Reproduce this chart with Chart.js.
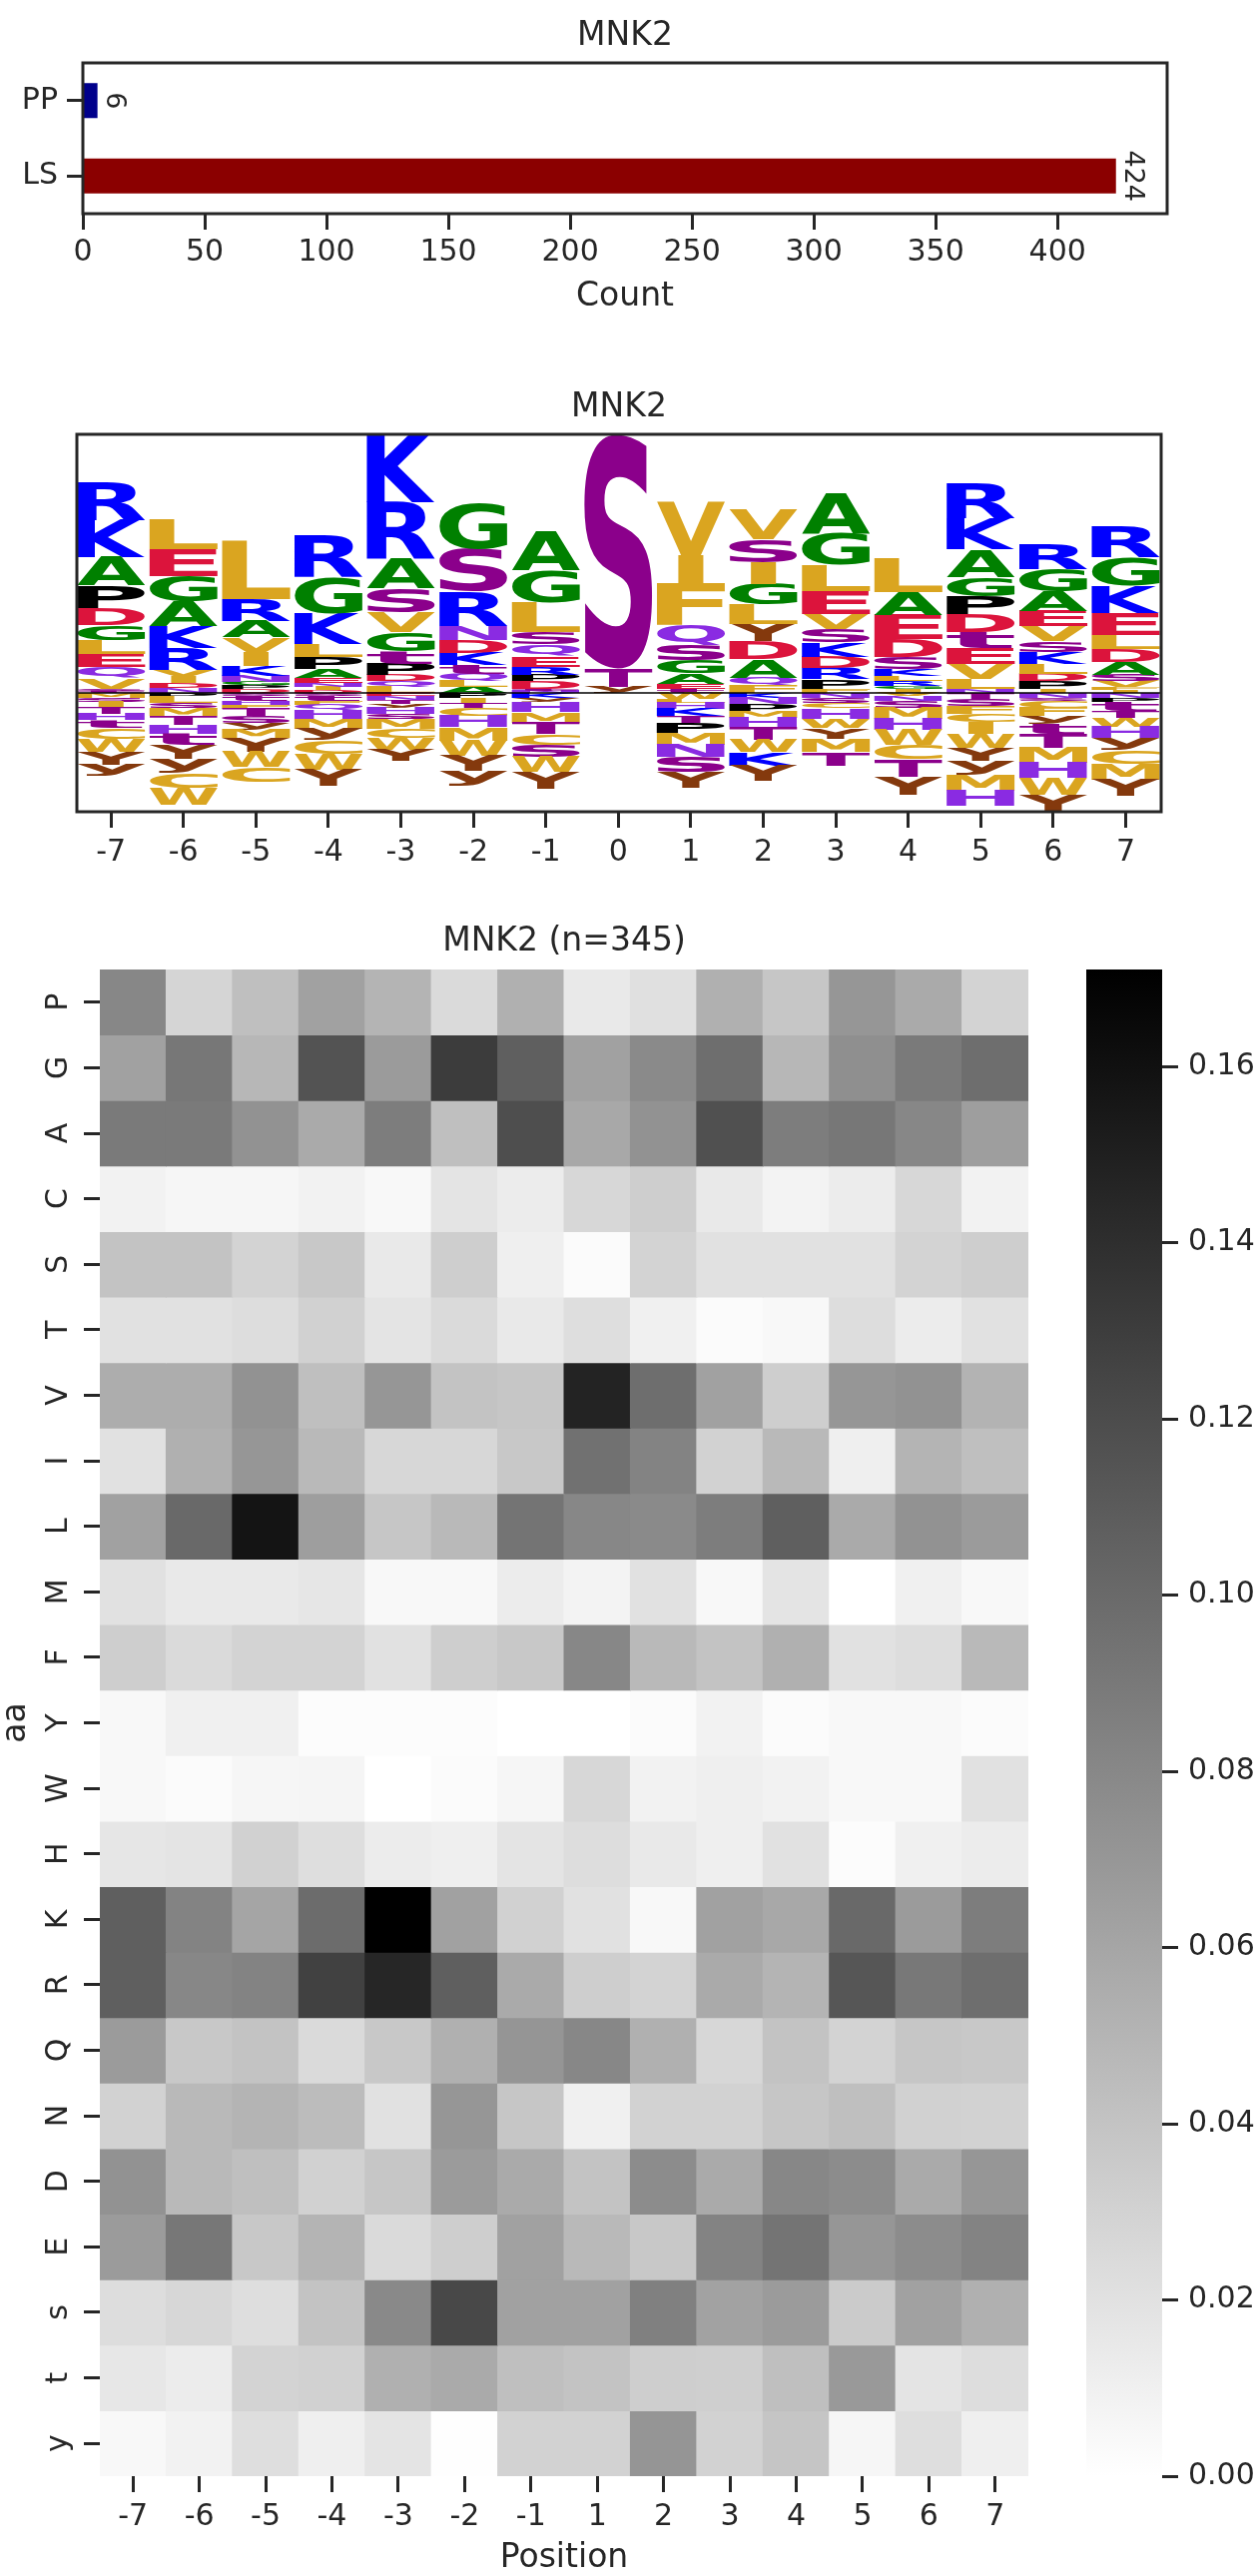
<!DOCTYPE html>
<html lang="en">
<head>
<meta charset="UTF-8">
<title>MNK2</title>
<script src="https://cdn.jsdelivr.net/npm/chart.js"></script>
<style>
    body { margin: 0; padding: 0; background: #fff; }
    canvas { position: absolute; }
</style>
</head>
<body>
<canvas id="counts" width="1257" height="320" style="left:0px;top:0px"></canvas>
<canvas id="logo" width="1257" height="500" style="left:0px;top:380px"></canvas>
<canvas id="heat" width="1060" height="1680" style="left:0px;top:900px"></canvas>
<canvas id="cbar" width="197" height="1680" style="left:1060px;top:900px"></canvas>
<script>
// top chart
const countLabels = ['PP', 'LS'];
const countValues = [6, 424];
const countColors = ['#00008b', '#8b0000'];

// logo: letters read from the top of each stack down to the baseline, heights in same order
const logoPositions = [-7, -6, -5, -4, -3, -2, -1, 0, 1, 2, 3, 4, 5, 6, 7];
const upLetters = ['RKAPDGLEQVst', 'LEGAKRVIDN', 'LRAVIKNGPD', 'RGKLPAENID', 'KRASVGtPDQL', 'GSRNDKtQLA', 'AGLSQERPDtN', 'STy',
    'VIFQsGAEt', 'VSIGLYDAQF', 'AGLEVSKDRPF', 'LAEDSKLRGI', 'RKAGPDtEVLN', 'RGAEVSKLDPI', 'RGKELDAsVFI'];
const upHeights = [
    [112, 112, 84, 68, 50, 46, 41, 40, 33, 32, 7, 6],
    [90, 80, 78, 74, 66, 64, 20, 20, 15, 15],
    [174, 66, 50, 44, 42, 30, 18, 10, 12, 11],
    [125, 110, 92, 38, 35, 27, 15, 13, 10, 8],
    [205, 170, 88, 74, 58, 58, 37, 33, 20, 16, 19],
    [137, 128, 103, 42, 37, 38, 26, 22, 17, 18],
    [117, 97, 88, 38, 35, 32, 23, 20, 22, 7, 6],
    [705, 55, 18],
    [161, 87, 123, 62, 45, 40, 32, 15, 11],
    [88, 70, 65, 63, 57, 53, 54, 55, 23, 23],
    [120, 96, 78, 70, 46, 40, 43, 33, 34, 28, 13],
    [100, 70, 72, 53, 37, 20, 16, 14, 8, 13],
    [105, 94, 83, 57, 53, 55, 48, 47, 45, 30, 13],
    [75, 68, 58, 47, 45, 32, 35, 30, 23, 22, 13],
    [92, 86, 80, 66, 42, 40, 38, 20, 17, 9, 9]
];
// below the baseline, from the baseline downwards
const downLetters = ['MsITHtCWYy', 'PLsMTHtYyCW', 'stHFTsyMYWC', 'stFQHMyCWY', 'ENTyHsMCWY', 'PITCHMWYy', 'KyHMTCsWY', '',
    'WLHKTPMNsY', 'KNPMHTWKY', 'NsCHWYMT', 'VNsMHWCTY', 'TsFCIWYyMH', 'NsCFytTMHWY', 'NPtTWHyCMY'];
const downHeights = [
    [16, 12, 17, 18, 19, 24, 34, 38, 37, 36],
    [12, 18, 15, 25, 26, 27, 33, 42, 42, 45, 50],
    [8, 15, 12, 13, 22, 20, 20, 26, 42, 45, 45],
    [8, 15, 12, 16, 27, 30, 35, 42, 45, 50],
    [10, 11, 12, 12, 18, 15, 30, 28, 34, 33],
    [16, 14, 15, 24, 34, 40, 45, 47, 45],
    [16, 12, 30, 32, 33, 33, 37, 45, 50],
    [],
    [18, 13, 17, 22, 20, 30, 36, 37, 45, 47],
    [16, 17, 21, 20, 29, 37, 38, 40, 45],
    [15, 15, 16, 32, 28, 32, 40, 40],
    [10, 14, 21, 33, 33, 45, 44, 51, 54],
    [21, 20, 23, 24, 35, 42, 40, 41, 47, 45],
    [14, 10, 20, 26, 24, 28, 42, 46, 45, 50, 48],
    [16, 12, 25, 21, 28, 34, 37, 42, 45, 50]
];
const logoColors = {
    R: '#0000ff', K: '#0000ff', A: '#008000', G: '#008000', S: '#8b008b', T: '#8b008b', s: '#8b008b', t: '#8b008b',
    D: '#dc143c', E: '#dc143c', P: '#000000', Q: '#8a2be2', N: '#8a2be2', H: '#8a2be2',
    L: '#daa520', I: '#daa520', V: '#daa520', M: '#daa520', F: '#daa520', W: '#daa520', C: '#daa520',
    Y: '#84390d', y: '#84390d'
};

// heatmap
const heatPositions = ['-7', '-6', '-5', '-4', '-3', '-2', '-1', '1', '2', '3', '4', '5', '6', '7'];
const heatResidues = ['P', 'G', 'A', 'C', 'S', 'T', 'V', 'I', 'L', 'M', 'F', 'Y', 'W', 'H', 'K', 'R', 'Q', 'N', 'D', 'E', 's', 't', 'y'];
const heatValues = [
    [.080, .028, .043, .063, .050, .025, .053, .015, .021, .053, .038, .070, .057, .029],
    [.063, .091, .048, .115, .067, .130, .107, .063, .078, .097, .048, .075, .089, .097],
    [.089, .089, .073, .057, .087, .043, .118, .058, .073, .117, .087, .091, .080, .065],
    [.009, .006, .006, .009, .005, .018, .013, .027, .033, .015, .008, .013, .027, .009],
    [.040, .040, .029, .037, .015, .033, .011, .003, .029, .020, .020, .020, .029, .033],
    [.020, .020, .023, .031, .018, .025, .015, .022, .010, .003, .005, .023, .013, .020],
    [.055, .055, .073, .043, .070, .040, .038, .147, .097, .063, .033, .070, .073, .051],
    [.020, .053, .070, .047, .027, .027, .037, .095, .083, .030, .047, .011, .050, .043],
    [.063, .100, .157, .065, .038, .047, .093, .080, .078, .087, .107, .057, .073, .067],
    [.020, .015, .015, .017, .005, .005, .013, .008, .020, .005, .018, .000, .010, .005],
    [.033, .025, .029, .029, .020, .033, .037, .080, .047, .040, .053, .020, .023, .047],
    [.005, .010, .010, .002, .002, .002, .000, .000, .003, .009, .003, .005, .005, .003],
    [.005, .003, .006, .007, .000, .003, .006, .027, .009, .011, .009, .005, .005, .020],
    [.017, .018, .031, .022, .013, .011, .018, .023, .015, .011, .020, .002, .010, .013],
    [.107, .083, .060, .098, .170, .063, .031, .020, .005, .063, .058, .100, .067, .087],
    [.107, .080, .083, .127, .145, .107, .057, .033, .029, .057, .050, .113, .090, .097],
    [.067, .037, .040, .025, .037, .053, .071, .080, .053, .027, .040, .029, .038, .037],
    [.030, .047, .050, .045, .020, .070, .038, .010, .030, .030, .038, .043, .031, .030],
    [.073, .047, .043, .031, .038, .067, .057, .040, .077, .057, .080, .077, .057, .070],
    [.067, .091, .037, .050, .025, .033, .063, .047, .037, .083, .093, .070, .077, .083],
    [.023, .027, .022, .040, .079, .122, .063, .063, .085, .062, .067, .035, .063, .053],
    [.016, .013, .029, .031, .053, .057, .043, .040, .033, .032, .043, .068, .018, .023],
    [.005, .009, .022, .011, .018, .001, .030, .030, .071, .030, .039, .006, .022, .011]
];
const heatMax = 0.171;
const cbarTicks = [0, 0.02, 0.04, 0.06, 0.08, 0.10, 0.12, 0.14, 0.16];

const INK = '#262626';
const FAMILY = '"DejaVu Sans"';
const TICK_FONT = { family: FAMILY, size: 30 };
const LABEL_FONT = { family: FAMILY, size: 33 };

Chart.defaults.animation = false;
Chart.defaults.responsive = false;
Chart.defaults.devicePixelRatio = 1;
Chart.defaults.color = INK;
Chart.defaults.plugins.legend.display = false;
Chart.defaults.plugins.tooltip.enabled = false;

function titleOpts(text, top, bottom) {
    return { display: true, text: text, color: INK, font: { family: FAMILY, size: 33, weight: 'normal' }, padding: { top: top, bottom: bottom } };
}
function tickGrid() {
    return { offset: false, drawOnChartArea: false, drawTicks: true, tickLength: 16, tickWidth: 3, tickColor: INK };
}
function grayFor(v) {
    const g = Math.round(255 * (1 - Math.min(v / 0.17, 1)));
    return `rgb(${g},${g},${g})`;
}

const framePlugin = {
    id: 'frame',
    afterDraw(chart) {
        const { ctx, chartArea: a } = chart;
        ctx.save();
        ctx.strokeStyle = INK;
        ctx.lineWidth = 3;
        ctx.strokeRect(a.left, a.top, a.right - a.left, a.bottom - a.top);
        ctx.restore();
    }
};

// centre the chart title over the axes, not over the whole canvas
const centerTitlePlugin = {
    id: 'centerTitle',
    afterLayout(chart) {
        chart.titleBlock.left = chart.chartArea.left;
        chart.titleBlock.right = chart.chartArea.right;
    }
};

// rotated value labels at the end of the count bars
const countLabelPlugin = {
    id: 'countLabels',
    afterDatasetsDraw(chart) {
        const { ctx } = chart;
        chart.getDatasetMeta(0).data.forEach((bar, i) => {
            ctx.save();
            ctx.translate(bar.x + 16, bar.y);
            ctx.rotate(Math.PI / 2);
            ctx.font = `27px ${FAMILY}`;
            ctx.fillStyle = INK;
            ctx.textAlign = 'center';
            ctx.textBaseline = 'middle';
            ctx.fillText(String(countValues[i]), 0, 0);
            ctx.restore();
        });
    }
};

new Chart(document.getElementById('counts'), {
    type: 'bar',
    plugins: [framePlugin, countLabelPlugin, centerTitlePlugin],
    data: {
        labels: countLabels,
        datasets: [{ data: countValues, backgroundColor: countColors, barPercentage: 0.464, categoryPercentage: 1 }]
    },
    options: {
        indexAxis: 'y',
        layout: { padding: { right: 88 } },
        plugins: { title: titleOpts('MNK2', 17, 6.4) },
        scales: {
            x: {
                type: 'linear', min: 0, max: 445,
                border: { display: false }, grid: tickGrid(),
                ticks: { stepSize: 50, font: TICK_FONT, padding: 5, includeBounds: false, maxRotation: 0 },
                title: { display: true, text: 'Count', font: LABEL_FONT, color: INK, padding: { top: 0, bottom: 3 } },
                afterFit(s) { s.height = 106; }
            },
            y: {
                border: { display: false }, grid: tickGrid(),
                ticks: { font: TICK_FONT, padding: 9 },
                afterFit(s) { s.width = 83; }
            }
        }
    }
});

// one bar per letter, stretched glyph is painted into the bar's box
const logoDatasets = [];
function pushStack(pos, letters, heights, sign) {
    let at = 0;
    [...letters].forEach((ch, i) => {
        const next = at + sign * heights[i];
        logoDatasets.push({ letter: ch, data: [{ x: pos, y: [at, next] }], backgroundColor: 'transparent', grouped: false, barPercentage: 0.94, categoryPercentage: 1 });
        at = next;
    });
}
logoPositions.forEach((pos, p) => {
    // the upper stack is listed top first, so build it from the baseline up
    pushStack(pos, [...upLetters[p]].reverse().join(''), [...upHeights[p]].reverse(), 1);
    pushStack(pos, downLetters[p], downHeights[p], -1);
});

const glyphPlugin = {
    id: 'glyphs',
    afterDatasetsDraw(chart) {
        const { ctx, chartArea: a } = chart;
        ctx.save();
        ctx.beginPath();
        ctx.rect(a.left, a.top, a.right - a.left, a.bottom - a.top);
        ctx.clip();
        ctx.font = `bold 200px ${FAMILY}`;
        ctx.textAlign = 'left';
        ctx.textBaseline = 'alphabetic';
        chart.data.datasets.forEach((ds, d) => {
            const bar = chart.getDatasetMeta(d).data[0];
            const m = ctx.measureText(ds.letter);
            const gw = m.actualBoundingBoxLeft + m.actualBoundingBoxRight;
            const gh = m.actualBoundingBoxAscent + m.actualBoundingBoxDescent;
            const top = Math.min(bar.y, bar.base);
            const h = Math.abs(bar.base - bar.y);
            // I stays a narrow block in the logo, every other letter fills the width
            const w = ds.letter === 'I' ? bar.width * 0.37 : bar.width;
            ctx.save();
            ctx.translate(bar.x - w / 2, top);
            ctx.scale(w / gw, h / gh);
            ctx.fillStyle = logoColors[ds.letter];
            ctx.fillText(ds.letter, m.actualBoundingBoxLeft, m.actualBoundingBoxAscent);
            ctx.restore();
        });
        // baseline
        const y0 = chart.scales.y.getPixelForValue(0);
        ctx.strokeStyle = '#000';
        ctx.lineWidth = 1.5;
        ctx.beginPath();
        ctx.moveTo(a.left, y0);
        ctx.lineTo(a.right, y0);
        ctx.stroke();
        ctx.restore();
    }
};

new Chart(document.getElementById('logo'), {
    type: 'bar',
    plugins: [glyphPlugin, framePlugin, centerTitlePlugin],
    data: { datasets: logoDatasets },
    options: {
        layout: { padding: { left: 77, right: 94 } },
        plugins: { title: titleOpts('MNK2', 9, 6.4) },
        scales: {
            x: {
                type: 'linear', min: -7.47, max: 7.49, offset: false,
                border: { display: false }, grid: tickGrid(),
                afterBuildTicks(s) { s.ticks = logoPositions.map(v => ({ value: v })); },
                ticks: { font: TICK_FONT, padding: 7, maxRotation: 0, callback: v => String(v) },
                afterFit(s) { s.height = 67; }
            },
            y: { display: false, min: -357, max: 777 }
        }
    }
});

// each row of the heatmap is a dataset of floating bars spanning one row of the y scale
new Chart(document.getElementById('heat'), {
    type: 'bar',
    plugins: [centerTitlePlugin],
    data: {
        labels: heatPositions,
        datasets: heatResidues.map((res, r) => ({
            label: res,
            data: heatValues[r].map(() => [r, r + 1]),
            backgroundColor: heatValues[r].map(grayFor),
            grouped: false, barPercentage: 1, categoryPercentage: 1, inflateAmount: 0.5
        }))
    },
    options: {
        layout: { padding: { right: 30 } },
        plugins: { title: titleOpts('MNK2 (n=345)', 24, 7.4) },
        scales: {
            x: {
                border: { display: false }, grid: tickGrid(),
                ticks: { font: TICK_FONT, padding: 7, maxRotation: 0, autoSkip: false },
                title: { display: true, text: 'Position', font: LABEL_FONT, color: INK, padding: { top: 0, bottom: -2 } },
                afterFit(s) { s.height = 100; }
            },
            y: {
                type: 'linear', min: 0, max: heatResidues.length, reverse: true,
                border: { display: false }, grid: tickGrid(),
                afterBuildTicks(s) { s.ticks = heatResidues.map((_, r) => ({ value: r + 0.5 })); },
                ticks: {
                    font: TICK_FONT, padding: 10, crossAlign: 'center', minRotation: 90, maxRotation: 90,
                    callback: v => heatResidues[Math.floor(v)]
                },
                title: { display: true, text: 'aa', font: LABEL_FONT, color: INK, padding: { top: -3, bottom: 0 } },
                afterFit(s) { s.width = 100; }
            }
        }
    }
});

new Chart(document.getElementById('cbar'), {
    type: 'bar',
    data: {
        labels: ['scale'],
        datasets: [{
            data: [[0, heatMax]],
            barPercentage: 1, categoryPercentage: 1,
            backgroundColor(ctx) {
                const a = ctx.chart.chartArea;
                if (!a) return '#888';
                const g = ctx.chart.ctx.createLinearGradient(0, a.bottom, 0, a.top);
                g.addColorStop(0, '#ffffff');
                g.addColorStop(1, '#000000');
                return g;
            }
        }]
    },
    options: {
        layout: { padding: { left: 28, top: 71, bottom: 100 } },
        scales: {
            x: { display: false },
            y: {
                position: 'right', min: 0, max: heatMax,
                border: { display: false }, grid: tickGrid(),
                afterBuildTicks(s) { s.ticks = cbarTicks.map(v => ({ value: v })); },
                ticks: { font: TICK_FONT, padding: 10, callback: v => v.toFixed(2) },
                afterFit(s) { s.width = 93; }
            }
        }
    }
});
</script>
</body>
</html>
